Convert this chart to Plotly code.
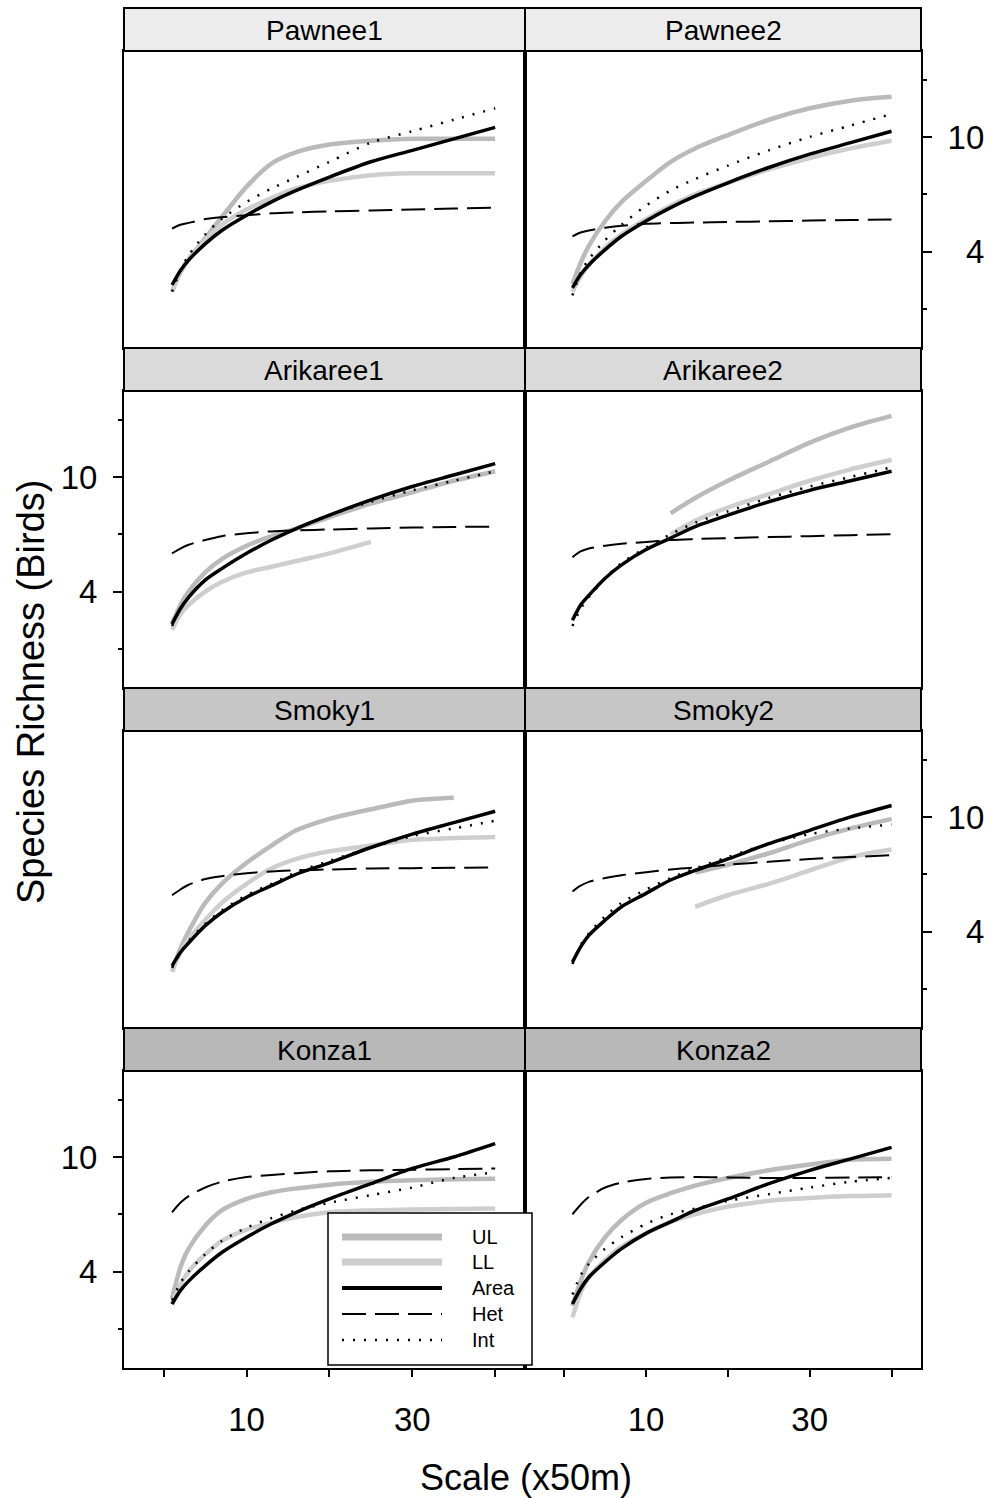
import plotly.graph_objects as go

W, H = 995, 1498

# ---------------- data ----------------
X = [1, 2, 3, 5, 7, 10, 13, 16, 20, 25, 30, 35, 40]

SITES = ["Pawnee1", "Pawnee2", "Arikaree1", "Arikaree2",
         "Smoky1", "Smoky2", "Konza1", "Konza2"]
SERIES = ["UL", "LL", "Area", "Het", "Int"]

X_TICKVALS = [0, 10, 20, 30, 40]
X_TICKTEXT = ["", "10", "", "30", ""]
Y_TICKS = [4, 10]

PAWNEE1_UL = [1.9, 2.9, 3.6, 4.7, 5.8, 7.4, 8.6, 9.2, 9.6, 9.8, 9.9, 9.9, 9.9]
PAWNEE1_LL = [1.9, 2.9, 3.6, 4.6, 5.4, 6.2, 6.8, 7.3, 7.7, 8.0, 8.1, 8.1, 8.1]
PAWNEE1_AREA = [2.25, 3.0, 3.55, 4.4, 5.1, 5.9, 6.6, 7.2, 7.9, 8.7, 9.3, 9.9, 10.5]
PAWNEE1_HET = [5.2, 5.4, 5.5, 5.7, 5.8, 5.9, 6.0, 6.05, 6.1, 6.15, 6.2, 6.25, 6.3]
PAWNEE1_INT = [1.9, 3.0, 3.8, 4.9, 5.7, 6.6, 7.3, 7.9, 8.7, 9.7, 10.3, 10.9, 11.5]

PAWNEE2_UL = [2.3, 3.4, 4.3, 5.6, 6.6, 7.7, 8.7, 9.4, 10.1, 10.9, 11.5, 11.9, 12.1]
PAWNEE2_LL = [1.9, 2.7, 3.3, 4.2, 4.9, 5.7, 6.4, 7.0, 7.6, 8.3, 8.9, 9.4, 9.8]
PAWNEE2_AREA = [2.1, 2.8, 3.3, 4.1, 4.8, 5.6, 6.3, 6.9, 7.6, 8.4, 9.1, 9.7, 10.3]
PAWNEE2_HET = [4.8, 5.0, 5.1, 5.25, 5.35, 5.45, 5.5, 5.52, 5.55, 5.58, 5.62, 5.65, 5.68]
PAWNEE2_INT = [1.7, 2.9, 3.6, 4.6, 5.4, 6.4, 7.2, 7.8, 8.5, 9.3, 10.0, 10.6, 11.2]

ARIKAREE1_UL = [2.3, 3.3, 4.0, 5.0, 5.7, 6.4, 6.9, 7.3, 7.9, 8.6, 9.2, 9.8, 10.3]
ARIKAREE1_LL = [2.0, 2.8, 3.3, 4.0, 4.5, 5.0, 5.3, 5.6, 6.0, 6.6, None, None, None]
ARIKAREE1_AREA = [2.3, 3.1, 3.7, 4.6, 5.2, 6.0, 6.7, 7.3, 8.0, 8.8, 9.5, 10.1, 10.7]
ARIKAREE1_HET = [6.0, 6.25, 6.45, 6.7, 6.9, 7.05, 7.15, 7.2, 7.25, 7.3, 7.35, 7.38, 7.4]
ARIKAREE1_INT = [2.2, 3.1, 3.7, 4.6, 5.2, 6.0, 6.7, 7.3, 8.0, 8.7, 9.3, 9.8, 10.3]

ARIKAREE2_UL = [None, None, None, None, None, None, 8.1, 8.9, 9.8, 10.8, 11.8, 12.6, 13.2]
ARIKAREE2_LL = [None, None, None, None, None, None, 7.0, 7.7, 8.4, 9.1, 9.8, 10.4, 10.9]
ARIKAREE2_AREA = [2.5, 3.3, 3.8, 4.7, 5.4, 6.2, 6.8, 7.4, 8.0, 8.7, 9.3, 9.8, 10.3]
ARIKAREE2_HET = [5.8, 6.1, 6.25, 6.4, 6.5, 6.6, 6.7, 6.75, 6.8, 6.85, 6.9, 6.95, 7.0]
ARIKAREE2_INT = [2.2, 3.1, 3.7, 4.7, 5.5, 6.3, 7.0, 7.6, 8.2, 8.9, 9.5, 10.0, 10.5]

SMOKY1_UL = [1.9, 3.1, 4.0, 5.5, 6.5, 7.6, 8.5, 9.3, 9.9, 10.4, 10.85, 11.0, None]
SMOKY1_LL = [1.9, 2.9, 3.6, 4.6, 5.5, 6.5, 7.3, 7.8, 8.2, 8.5, 8.8, 8.9, 8.95]
SMOKY1_AREA = [2.2, 2.9, 3.4, 4.3, 5.0, 5.8, 6.4, 7.0, 7.6, 8.4, 9.1, 9.7, 10.3]
SMOKY1_HET = [5.9, 6.2, 6.45, 6.75, 6.9, 7.05, 7.15, 7.2, 7.25, 7.3, 7.32, 7.34, 7.35]
SMOKY1_INT = [2.1, 2.9, 3.5, 4.4, 5.1, 5.9, 6.5, 7.1, 7.7, 8.4, 9.0, 9.4, 9.8]

SMOKY2_UL = [None, None, None, None, None, None, None, 7.1, 7.5, 8.1, 8.8, 9.4, 9.9]
SMOKY2_LL = [None, None, None, None, None, None, None, 5.3, 5.9, 6.5, 7.2, 7.9, 8.3]
SMOKY2_AREA = [2.4, 3.2, 3.8, 4.6, 5.3, 6.0, 6.7, 7.2, 7.8, 8.6, 9.3, 10.0, 10.6]
SMOKY2_HET = [6.1, 6.4, 6.6, 6.8, 6.95, 7.1, 7.25, 7.35, 7.5, 7.65, 7.8, 7.9, 8.0]
SMOKY2_INT = [2.3, 3.3, 3.9, 4.8, 5.5, 6.2, 6.8, 7.3, 7.9, 8.6, 9.1, 9.4, 9.6]

KONZA1_UL = [2.6, 4.2, 5.2, 6.4, 7.2, 7.8, 8.15, 8.35, 8.55, 8.7, 8.78, 8.83, 8.86]
KONZA1_LL = [2.3, 3.3, 4.0, 4.9, 5.6, 6.2, 6.55, 6.85, 7.1, 7.2, 7.25, 7.27, 7.3]
KONZA1_AREA = [2.3, 3.0, 3.5, 4.3, 5.0, 5.8, 6.5, 7.1, 7.8, 8.6, 9.4, 10.0, 10.7]
KONZA1_HET = [7.1, 7.6, 7.95, 8.4, 8.7, 8.95, 9.05, 9.15, 9.25, 9.3, 9.33, 9.36, 9.4]
KONZA1_INT = [2.5, 3.4, 4.0, 4.9, 5.6, 6.3, 6.8, 7.2, 7.6, 8.0, 8.4, 8.9, 9.2]

KONZA2_UL = [2.2, 3.5, 4.5, 5.8, 6.7, 7.6, 8.1, 8.5, 8.9, 9.3, 9.6, 9.85, 9.9]
KONZA2_LL = [1.6, 2.9, 3.7, 4.6, 5.3, 6.0, 6.6, 7.0, 7.4, 7.7, 7.85, 7.95, 8.0]
KONZA2_AREA = [2.3, 3.1, 3.7, 4.5, 5.2, 6.0, 6.6, 7.2, 7.8, 8.6, 9.3, 9.9, 10.5]
KONZA2_HET = [7.0, 7.5, 7.9, 8.4, 8.65, 8.85, 8.92, 8.95, 8.93, 8.9, 8.9, 8.92, 8.95]
KONZA2_INT = [2.8, 3.8, 4.4, 5.2, 5.8, 6.5, 7.0, 7.3, 7.7, 8.05, 8.4, 8.7, 8.9]

DATA = {
    "Pawnee1": [PAWNEE1_UL, PAWNEE1_LL, PAWNEE1_AREA, PAWNEE1_HET, PAWNEE1_INT],
    "Pawnee2": [PAWNEE2_UL, PAWNEE2_LL, PAWNEE2_AREA, PAWNEE2_HET, PAWNEE2_INT],
    "Arikaree1": [ARIKAREE1_UL, ARIKAREE1_LL, ARIKAREE1_AREA, ARIKAREE1_HET, ARIKAREE1_INT],
    "Arikaree2": [ARIKAREE2_UL, ARIKAREE2_LL, ARIKAREE2_AREA, ARIKAREE2_HET, ARIKAREE2_INT],
    "Smoky1": [SMOKY1_UL, SMOKY1_LL, SMOKY1_AREA, SMOKY1_HET, SMOKY1_INT],
    "Smoky2": [SMOKY2_UL, SMOKY2_LL, SMOKY2_AREA, SMOKY2_HET, SMOKY2_INT],
    "Konza1": [KONZA1_UL, KONZA1_LL, KONZA1_AREA, KONZA1_HET, KONZA1_INT],
    "Konza2": [KONZA2_UL, KONZA2_LL, KONZA2_AREA, KONZA2_HET, KONZA2_INT],
}

# ---------------- styles / layout geometry ----------------
FONT = "Liberation Sans, Arial, Helvetica, sans-serif"
STYLE = {
    "UL": dict(color="#bababa", width=4.5),
    "LL": dict(color="#cecece", width=4.5),
    "Area": dict(color="black", width=3.5),
    "Het": dict(color="black", width=2, dash="24px,9px"),
    "Int": dict(color="black", width=2.5, dash="2px,9px"),
}
KEY_WIDTH = {"UL": 7, "LL": 7, "Area": 4, "Het": 2, "Int": 2.5}
STRIP_FILL = ["#ececec", "#dadada", "#c6c6c6", "#b8b8b8"]

COL_X = [124, 525, 921]
PANEL_TOP = [51, 391, 731, 1071]
PANEL_H = 297
STRIP_H = 43
X_RANGE = [-4.8, 43.6]
Y_RANGE = [-1.05, 14.5]

fig = go.Figure()
layout = dict(
    width=W, height=H,
    margin=dict(l=0, r=0, t=0, b=0),
    paper_bgcolor="white", plot_bgcolor="white",
    showlegend=False,
    font=dict(family=FONT, color="black"),
)
shapes = []
annotations = []

for i, site in enumerate(SITES):
    r, c = divmod(i, 2)
    n = i + 1
    xname = "x" if n == 1 else f"x{n}"
    yname = "y" if n == 1 else f"y{n}"
    for s, vals in zip(SERIES, DATA[site]):
        fig.add_trace(go.Scatter(
            x=X, y=vals, mode="lines", name=s,
            line=dict(shape="spline", smoothing=0.8, **STYLE[s]),
            xaxis=xname, yaxis=yname, hoverinfo="skip",
        ))

    top = PANEL_TOP[r]
    bot = top + PANEL_H
    xdom = [COL_X[c] / W, COL_X[c + 1] / W]
    ydom = [1 - bot / H, 1 - top / H]

    xa = dict(domain=xdom, anchor=yname, range=X_RANGE, showgrid=False,
              zeroline=False, showline=True, linecolor="black", linewidth=2,
              mirror=True, fixedrange=True)
    if r == 3:
        xa.update(ticks="outside", tickmode="array", tickvals=X_TICKVALS,
                  ticktext=X_TICKTEXT, ticklen=7, tickwidth=1.5,
                  tickcolor="black", tickfont=dict(size=33, family=FONT),
                  ticklabelstandoff=14)
    else:
        xa.update(ticks="", showticklabels=False)

    ya = dict(domain=ydom, anchor=xname, range=Y_RANGE, showgrid=False,
              zeroline=False, showline=True, linecolor="black", linewidth=2,
              mirror=True, fixedrange=True)
    show_right = (c == 1 and r in (0, 2))
    show_left = (c == 0 and r in (1, 3))
    if show_right or show_left:
        if show_right:
            ttext = ["\u2007" + str(v) if v < 10 else str(v) for v in Y_TICKS]
        else:
            ttext = [str(v) for v in Y_TICKS]
        ya.update(side="right" if show_right else "left",
                  ticks="outside", tickmode="array", tickvals=Y_TICKS,
                  ticktext=ttext, ticklen=9, tickwidth=1.5, tickcolor="black",
                  tickfont=dict(size=33, family=FONT), ticklabelstandoff=9,
                  minor=dict(tickmode="linear", tick0=1, dtick=3, ticks="outside",
                             ticklen=4, tickwidth=1.5, tickcolor="black"))
    else:
        ya.update(ticks="", showticklabels=False)

    layout["xaxis" if n == 1 else f"xaxis{n}"] = xa
    layout["yaxis" if n == 1 else f"yaxis{n}"] = ya

    # strip
    s_top = top - STRIP_H
    shapes.append(dict(type="rect", xref="paper", yref="paper",
                       x0=xdom[0], x1=xdom[1],
                       y0=1 - top / H, y1=1 - s_top / H,
                       fillcolor=STRIP_FILL[r], line=dict(color="black", width=2),
                       layer="above"))
    annotations.append(dict(text=site, xref="paper", yref="paper",
                            x=(xdom[0] + xdom[1]) / 2, y=1 - (s_top + STRIP_H / 2 + 1) / H,
                            xanchor="center", yanchor="middle", showarrow=False,
                            font=dict(size=28, family=FONT, color="black")))

# ---------------- key (inside Konza1) ----------------
KEY_BOX = (328, 1213, 532, 1365)
KEY_Y = [1237, 1262, 1288, 1314, 1340]
KEY_X0, KEY_X1, KEY_TX = 342, 442, 470
shapes.append(dict(type="rect", xref="paper", yref="paper",
                   x0=KEY_BOX[0] / W, x1=KEY_BOX[2] / W,
                   y0=1 - KEY_BOX[3] / H, y1=1 - KEY_BOX[1] / H,
                   fillcolor="white", line=dict(color="black", width=1.5),
                   layer="above"))
for s, yy in zip(SERIES, KEY_Y):
    st = dict(STYLE[s])
    st["width"] = KEY_WIDTH[s]
    shapes.append(dict(type="line", xref="paper", yref="paper",
                       x0=KEY_X0 / W, x1=KEY_X1 / W, y0=1 - yy / H, y1=1 - yy / H,
                       line=st, layer="above"))
    annotations.append(dict(text=s, xref="paper", yref="paper",
                            x=KEY_TX / W, y=1 - yy / H, xanchor="left",
                            yanchor="middle", showarrow=False,
                            font=dict(size=20, family=FONT, color="black")))

# ---------------- axis titles ----------------
annotations.append(dict(text="Species Richness (Birds)", xref="paper", yref="paper",
                        x=31 / W, y=1 - 692 / H, textangle=-90,
                        xanchor="center", yanchor="middle", showarrow=False,
                        font=dict(size=38, family=FONT, color="black")))
annotations.append(dict(text="Scale (x50m)", xref="paper", yref="paper",
                        x=526 / W, y=1 - 1477 / H,
                        xanchor="center", yanchor="middle", showarrow=False,
                        font=dict(size=36, family=FONT, color="black")))

layout["shapes"] = shapes
layout["annotations"] = annotations
fig.update_layout(**layout)
fig.write_html("out.html")
